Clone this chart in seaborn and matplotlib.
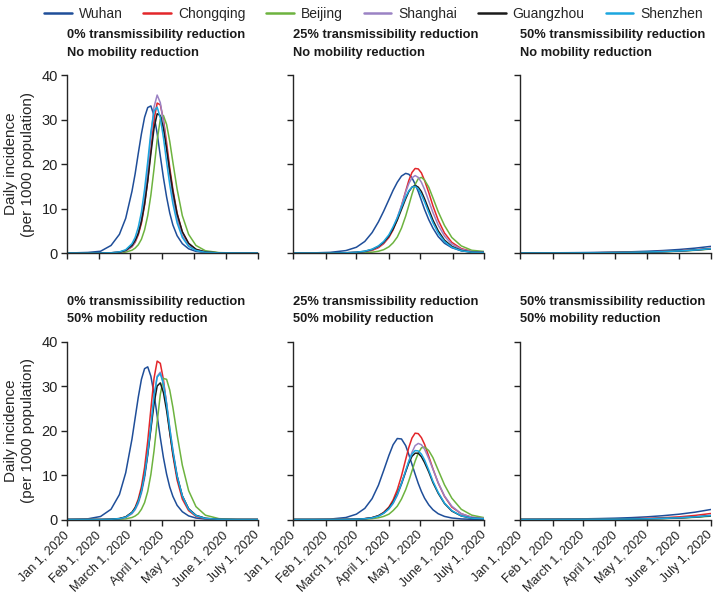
import matplotlib
matplotlib.use("Agg")
import matplotlib.pyplot as plt
import numpy as np
import pandas as pd
import seaborn as sns

cities = ["Wuhan", "Chongqing", "Beijing", "Shanghai", "Guangzhou", "Shenzhen"]
city_colors = ["#1f4e99", "#e3262a", "#6db33f", "#9b82c4", "#1a1a1a", "#1ca6df"]

days_early = [0, 20, 32, 42, 50, 56, 62, 65, 68, 71, 74, 77, 80, 83, 86, 89, 92,
              95, 98, 101, 105, 110, 116, 123, 132, 145, 162, 182]
days_mid = [0, 20, 35, 50, 60, 68, 75, 81, 86, 91, 95, 99, 103, 107, 110, 113, 116,
            119, 122, 125, 129, 133, 138, 144, 151, 160, 170, 182]
days_late = [0, 15, 31, 45, 60, 75, 91, 106, 121, 136, 152, 167, 182]

# 0% transmissibility reduction, no mobility reduction
t0_m0 = {
    "Wuhan": [0.0, 0.13, 0.4, 1.7, 4.2, 7.8, 13.9, 17.8, 22.4, 26.8, 30.5, 32.7, 33.05, 30.9,
              26.9, 21.8, 16.9, 12.6, 9.0, 6.3, 3.9, 2.1, 0.95, 0.37, 0.11, 0.01, 0, 0],
    "Chongqing": [0, 0, 0, 0.04, 0.16, 0.48, 1.4, 2.4, 4.1, 6.7, 10.8, 16.3, 23.2, 29.9,
                  33.7, 33.3, 30.0, 24.8, 19.2, 14.3, 9.0, 4.7, 2.1, 0.8, 0.22, 0.03, 0, 0],
    "Beijing": [0, 0, 0, 0.02, 0.07, 0.21, 0.63, 1.1, 1.85, 3.1, 5.2, 8.4, 13.0, 18.9,
                25.4, 30.0, 30.9, 28.9, 25.1, 20.4, 14.4, 8.4, 4.2, 1.7, 0.52, 0.09, 0.01, 0],
    "Shanghai": [0, 0, 0, 0.04, 0.16, 0.49, 1.5, 2.6, 4.5, 7.5, 12.2, 18.5, 26.1, 32.8,
                 35.5, 33.8, 29.4, 23.5, 17.7, 12.7, 7.7, 3.9, 1.7, 0.61, 0.16, 0.02, 0, 0],
    "Guangzhou": [0, 0, 0, 0.05, 0.21, 0.6, 1.7, 2.8, 4.4, 7.1, 11.0, 16.2, 22.3, 28.0,
                  31.3, 30.9, 28.0, 23.4, 18.4, 13.8, 8.8, 4.8, 2.2, 0.84, 0.24, 0.04, 0, 0],
    "Shenzhen": [0, 0, 0.01, 0.06, 0.25, 0.74, 2.1, 3.5, 5.8, 9.2, 14.3, 20.5, 27.2, 31.9,
                 32.8, 30.4, 25.9, 20.5, 15.4, 11.1, 6.8, 3.5, 1.5, 0.58, 0.16, 0.02, 0, 0],
}

# 25% transmissibility reduction, no mobility reduction
t25_m0 = {
    "Wuhan": [0.0, 0.04, 0.15, 0.55, 1.3, 2.6, 4.6, 7.0, 9.4, 12.0, 14.1, 15.9, 17.3, 17.9,
              17.7, 16.9, 15.5, 13.8, 11.8, 9.8, 7.5, 5.6, 3.7, 2.2, 1.2, 0.5, 0.2, 0.06],
    "Chongqing": [0, 0, 0, 0.03, 0.11, 0.27, 0.6, 1.2, 2.1, 3.5, 5.2, 7.6, 10.6, 13.9,
                  16.3, 18.1, 19.0, 18.9, 18.0, 16.3, 13.6, 10.6, 7.4, 4.5, 2.4, 1.0, 0.38, 0.2],
    "Beijing": [0, 0, 0, 0, 0.03, 0.08, 0.19, 0.4, 0.75, 1.4, 2.3, 3.6, 5.6, 8.3,
                10.7, 13.2, 15.4, 16.7, 17.0, 16.4, 14.8, 12.4, 9.3, 6.2, 3.5, 1.6, 0.62, 0.35],
    "Shanghai": [0, 0, 0, 0.05, 0.14, 0.33, 0.71, 1.4, 2.3, 3.8, 5.6, 8.0, 10.7, 13.7,
                 15.6, 16.9, 17.4, 17.0, 15.9, 14.3, 11.7, 9.1, 6.3, 3.8, 2.0, 0.84, 0.31, 0.2],
    "Guangzhou": [0, 0, 0.01, 0.06, 0.17, 0.38, 0.8, 1.5, 2.4, 3.8, 5.4, 7.4, 9.8, 12.2,
                  13.8, 14.8, 15.2, 14.8, 13.8, 12.2, 9.8, 7.4, 5.0, 2.9, 1.5, 0.58, 0.21, 0.15],
    "Shenzhen": [0, 0, 0.01, 0.06, 0.18, 0.42, 0.87, 1.6, 2.6, 4.1, 5.9, 7.9, 10.3, 12.6,
                 14.0, 14.8, 15.0, 14.4, 13.1, 11.5, 9.1, 6.8, 4.5, 2.6, 1.3, 0.51, 0.18, 0.12],
}

# 50% transmissibility reduction, no mobility reduction
t50_m0 = {
    "Wuhan": [0.02, 0.03, 0.05, 0.07, 0.1, 0.14, 0.2, 0.28, 0.4, 0.56, 0.8, 1.1, 1.5],
    "Chongqing": [0.01, 0.015, 0.02, 0.03, 0.05, 0.07, 0.11, 0.16, 0.24, 0.35, 0.5, 0.72, 1.05],
    "Beijing": [0.01, 0.01, 0.015, 0.025, 0.04, 0.06, 0.09, 0.13, 0.2, 0.29, 0.42, 0.62, 0.9],
    "Shanghai": [0.01, 0.015, 0.02, 0.03, 0.045, 0.065, 0.1, 0.15, 0.22, 0.33, 0.48, 0.7, 1.0],
    "Guangzhou": [0.01, 0.015, 0.02, 0.03, 0.045, 0.065, 0.1, 0.14, 0.21, 0.31, 0.45, 0.66, 0.95],
    "Shenzhen": [0.01, 0.015, 0.02, 0.03, 0.05, 0.07, 0.1, 0.15, 0.22, 0.32, 0.47, 0.68, 0.98],
}

# 0% transmissibility reduction, 50% mobility reduction
t0_m50 = {
    "Wuhan": [0.01, 0.16, 0.68, 2.3, 5.6, 10.5, 18.1, 22.8, 27.5, 31.5, 33.9, 34.3, 32.2, 28.3,
              23.3, 18.4, 13.9, 10.2, 7.3, 5.2, 3.2, 1.75, 0.81, 0.33, 0.1, 0.01, 0, 0],
    "Chongqing": [0, 0, 0, 0.05, 0.19, 0.56, 1.6, 2.7, 4.6, 7.4, 11.7, 17.6, 24.8, 31.7,
                  35.6, 35.1, 31.4, 25.8, 19.7, 14.4, 8.9, 4.6, 2.0, 0.72, 0.19, 0.03, 0, 0],
    "Beijing": [0, 0, 0, 0.01, 0.05, 0.15, 0.45, 0.78, 1.3, 2.3, 3.8, 6.3, 10.1, 15.4,
                21.9, 28.1, 31.7, 31.5, 29.1, 25.2, 19.1, 12.2, 6.5, 2.9, 0.97, 0.19, 0.02, 0],
    "Shanghai": [0, 0, 0, 0.04, 0.15, 0.44, 1.3, 2.2, 3.6, 5.9, 9.3, 14.4, 20.6, 27.4,
                 32.2, 33.1, 30.7, 26.2, 20.6, 15.6, 9.9, 5.3, 2.4, 0.89, 0.25, 0.04, 0, 0],
    "Guangzhou": [0, 0, 0, 0.06, 0.22, 0.59, 1.6, 2.6, 4.1, 6.5, 9.9, 14.7, 20.3, 26.0,
                  30.0, 30.7, 28.5, 24.5, 19.6, 14.9, 9.7, 5.3, 2.4, 0.94, 0.27, 0.04, 0, 0],
    "Shenzhen": [0, 0, 0, 0.05, 0.19, 0.53, 1.5, 2.4, 4.0, 6.3, 10.0, 14.9, 21.1, 27.8,
                 32.0, 32.8, 30.4, 25.9, 20.5, 15.4, 9.8, 5.3, 2.3, 0.88, 0.24, 0.04, 0, 0],
}

# 25% transmissibility reduction, 50% mobility reduction
t25_m50 = {
    "Wuhan": [0, 0.02, 0.1, 0.45, 1.2, 2.5, 4.7, 7.7, 11.0, 14.4, 16.8, 18.2, 18.1, 16.6,
              14.6, 12.4, 10.2, 8.1, 6.3, 4.8, 3.3, 2.2, 1.3, 0.7, 0.34, 0.13, 0.05, 0.02],
    "Chongqing": [0, 0, 0, 0.02, 0.06, 0.18, 0.41, 0.85, 1.6, 2.8, 4.4, 6.7, 9.8, 13.5,
                  16.2, 18.3, 19.4, 19.3, 18.4, 16.9, 14.2, 11.4, 8.2, 5.2, 2.8, 1.3, 0.49, 0.25],
    "Beijing": [0, 0, 0, 0, 0.03, 0.08, 0.19, 0.39, 0.7, 1.2, 2.0, 3.0, 4.6, 6.7,
                8.7, 10.9, 13.1, 14.9, 16.1, 16.3, 15.5, 13.9, 11.1, 7.8, 4.8, 2.3, 0.98, 0.4],
    "Shanghai": [0, 0, 0, 0.02, 0.07, 0.17, 0.38, 0.77, 1.4, 2.4, 3.6, 5.4, 7.9, 10.7,
                 13.1, 15.1, 16.6, 17.1, 16.8, 15.8, 13.7, 11.3, 8.3, 5.3, 3.0, 1.3, 0.52, 0.25],
    "Guangzhou": [0, 0, 0, 0.02, 0.07, 0.19, 0.42, 0.85, 1.5, 2.6, 3.9, 5.8, 8.1, 10.8,
                  12.7, 14.2, 14.9, 14.9, 14.1, 12.8, 10.7, 8.3, 5.9, 3.6, 1.9, 0.8, 0.3, 0.15],
    "Shenzhen": [0, 0, 0, 0.02, 0.06, 0.16, 0.37, 0.75, 1.4, 2.4, 3.7, 5.6, 8.1, 11.0,
                 13.1, 14.7, 15.5, 15.4, 14.7, 13.4, 11.1, 8.6, 6.1, 3.7, 2.0, 0.83, 0.31, 0.15],
}

# 50% transmissibility reduction, 50% mobility reduction
t50_m50 = {
    "Wuhan": [0.02, 0.04, 0.07, 0.1, 0.15, 0.21, 0.3, 0.42, 0.6, 0.85, 1.2, 1.65, 2.25],
    "Chongqing": [0.01, 0.015, 0.025, 0.035, 0.05, 0.075, 0.11, 0.17, 0.26, 0.4, 0.6, 0.92, 1.35],
    "Beijing": [0.01, 0.01, 0.015, 0.02, 0.03, 0.04, 0.06, 0.09, 0.14, 0.21, 0.32, 0.5, 0.75],
    "Shanghai": [0.01, 0.01, 0.02, 0.025, 0.035, 0.05, 0.075, 0.11, 0.17, 0.26, 0.4, 0.62, 0.95],
    "Guangzhou": [0.01, 0.01, 0.015, 0.02, 0.03, 0.045, 0.07, 0.1, 0.15, 0.23, 0.36, 0.55, 0.85],
    "Shenzhen": [0.01, 0.01, 0.015, 0.025, 0.035, 0.05, 0.07, 0.105, 0.16, 0.25, 0.38, 0.58, 0.9],
}

panels = [
    ("0% transmissibility reduction\nNo mobility reduction", days_early, t0_m0),
    ("25% transmissibility reduction\nNo mobility reduction", days_mid, t25_m0),
    ("50% transmissibility reduction\nNo mobility reduction", days_late, t50_m0),
    ("0% transmissibility reduction\n50% mobility reduction", days_early, t0_m50),
    ("25% transmissibility reduction\n50% mobility reduction", days_mid, t25_m50),
    ("50% transmissibility reduction\n50% mobility reduction", days_late, t50_m50),
]

month_ticks = pd.date_range("2020-01-01", "2020-07-01", freq="MS")
month_labels = ["Jan 1, 2020", "Feb 1, 2020", "March 1, 2020", "April 1, 2020",
                "May 1, 2020", "June 1, 2020", "July 1, 2020"]

sns.set_style("ticks")
plt.rcParams["font.family"] = ["Liberation Sans", "DejaVu Sans"]
plt.rcParams["axes.linewidth"] = 1.0

palette = dict(zip(cities, city_colors))
start = pd.Timestamp("2020-01-01")

fig, axes = plt.subplots(2, 3, figsize=(7.18, 5.94), dpi=100)
fig.subplots_adjust(left=0.0933, right=0.99, bottom=0.1254, top=0.8737,
                    wspace=0.187, hspace=0.497)

for i, (ax, (title, days, series)) in enumerate(zip(axes.flat, panels)):
    rows = []
    for city in cities:
        for d, v in zip(days, series[city]):
            rows.append({"date": start + pd.Timedelta(days=d), "city": city, "incidence": v})
    df = pd.DataFrame(rows)
    sns.lineplot(data=df, x="date", y="incidence", hue="city", hue_order=cities,
                 palette=palette, lw=1.1, ax=ax, legend=(i == 0))

    ax.set_xlim(month_ticks[0], month_ticks[-1])
    ax.set_ylim(0, 40)
    ax.set_yticks([0, 10, 20, 30, 40])
    ax.set_xticks(month_ticks)
    ax.set_title(title, loc="left", fontsize=9.3, fontweight="bold", pad=14,
                 linespacing=1.6, color="#1a1a1a")
    sns.despine(ax=ax)
    ax.tick_params(length=4, width=1.0, colors="#222222", labelsize=10.5, pad=2.5)
    ax.set_xlabel("")
    if i % 3 == 0:
        ax.set_ylabel("Daily incidence\n(per 1000 population)", fontsize=11,
                      linespacing=1.2)
        ax.yaxis.set_label_coords(-0.17, 0.5)
    else:
        ax.set_ylabel("")
        ax.set_yticklabels([])
    if i >= 3:
        ax.set_xticklabels(month_labels, rotation=45, ha="right", va="center",
                           rotation_mode="anchor", fontsize=9)
        ax.tick_params(axis="x", pad=6)
    else:
        ax.set_xticklabels([])

handles, labels = axes[0, 0].get_legend_handles_labels()
axes[0, 0].get_legend().remove()
for h in handles:
    h.set_linewidth(1.8)
fig.legend(handles, labels, loc="upper center", bbox_to_anchor=(0.52, 1.01), ncol=6,
           frameon=False, fontsize=10, handlelength=2.0, columnspacing=1.5,
           handletextpad=0.5)

fig.savefig("out.png", dpi=100)
